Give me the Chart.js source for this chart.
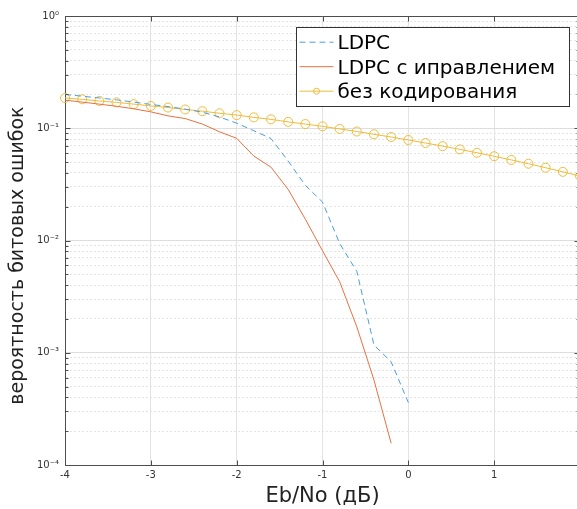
<!DOCTYPE html>
<html><head><meta charset="utf-8">
<script src="https://cdn.jsdelivr.net/npm/chart.js@4/dist/chart.umd.min.js"></script>
<style>html,body{margin:0;padding:0;background:#fff;overflow:hidden;width:577px;height:509px}canvas{display:block}</style>
</head><body>
<canvas id="c" width="580" height="509"></canvas>
<script>
// ---- data ----
const ebnoLdpc = [-4,-3.8,-3.6,-3.4,-3.2,-3,-2.8,-2.6,-2.4,-2.2,-2,-1.8,-1.6,-1.4,-1.2,-1,-0.8,-0.6,-0.4,-0.2,0];
const berLdpc = [0.200,0.193,0.186,0.179,0.171,0.163,0.156,0.148,0.139,0.126,0.111,0.095,0.081,0.051,0.031,0.022,0.0094,0.0053,0.00117,0.00083,0.00036];
const ebnoLdpcCorr = [-4,-3.8,-3.6,-3.4,-3.2,-3,-2.8,-2.6,-2.4,-2.2,-2,-1.8,-1.6,-1.4,-1.2,-1,-0.8,-0.6,-0.4,-0.2];
const berLdpcCorr = [0.178,0.171,0.164,0.157,0.149,0.140,0.129,0.122,0.109,0.093,0.0813,0.0565,0.0450,0.0285,0.0155,0.0081,0.0043,0.0017,0.00057,0.000156];
const ebnoUncoded = [-4,-3.8,-3.6,-3.4,-3.2,-3,-2.8,-2.6,-2.4,-2.2,-2,-1.8,-1.6,-1.4,-1.2,-1,-0.8,-0.6,-0.4,-0.2,0,0.2,0.4,0.6,0.8,1,1.2,1.4,1.6,1.8,2];
const berUncoded = [0.186,0.181,0.175,0.170,0.164,0.158,0.153,0.147,0.142,0.136,0.131,0.125,0.120,0.114,0.109,0.104,0.0986,0.0935,0.0884,0.0835,0.0786,0.0739,0.0693,0.0648,0.0605,0.0563,0.0522,0.0483,0.0445,0.0409,0.0375];
const seriesNames = ['LDPC','LDPC с иправлением','без кодирования'];
const xTickValues = [-4,-3,-2,-1,0,1,2];
const xTickLabels = ['-4','-3','-2','-1','0','1',''];
const yDecades = [1e-4,1e-3,1e-2,1e-1,1];
const yTickLabels = ['10⁻⁴','10⁻³','10⁻²','10⁻¹','10⁰'];
const xTitle = 'Eb/No (дБ)';
const yTitle = 'вероятность битовых ошибок';

// ---- helpers ----
const FONT = 'DejaVu Sans';
const isDecade = v => Math.abs(Math.log10(v) - Math.round(Math.log10(v))) < 1e-6;
const yTickValues = [];
yDecades.forEach((d, i) => {
  if (i < yDecades.length - 1) { for (let m = 1; m <= 9; m++) yTickValues.push(m * d); }
  else yTickValues.push(d);
});
const pts = (xs, ys) => xs.map((x, i) => ({x, y: ys[i]}));
const AXIS = '#4d4d4d';
const COLORS = ['#4a9ee0', '#e8703f', '#efbb3a'];

const frame = {
  id: 'frame',
  afterDatasetsDraw(chart) {
    const {ctx, chartArea: a, scales: {x, y}} = chart;
    ctx.save();
    ctx.strokeStyle = AXIS; ctx.lineWidth = 1;
    const T = Math.round(a.top) + 0.5, B = Math.round(a.bottom) + 0.5;
    const L = Math.round(a.left) + 0.5, R = Math.round(a.right) - 0.5;
    ctx.beginPath();
    ctx.moveTo(L, T); ctx.lineTo(R, T); ctx.lineTo(R, B);
    xTickValues.forEach(v => {
      const p = Math.round(x.getPixelForValue(v)) + 0.5;
      ctx.moveTo(p, B); ctx.lineTo(p, B - 5);
      ctx.moveTo(p, T); ctx.lineTo(p, T + 5);
    });
    yTickValues.forEach(v => {
      const p = Math.round(y.getPixelForValue(v)) + 0.5;
      const len = isDecade(v) ? 5 : 3;
      ctx.moveTo(L, p); ctx.lineTo(L + len, p);
      ctx.moveTo(R, p); ctx.lineTo(R - len, p);
    });
    ctx.stroke();
    ctx.restore();
  }
};

const boxLegend = {
  id: 'boxLegend',
  afterDraw(chart) {
    const {ctx, chartArea: a} = chart;
    const w = 273, h = 79;
    const left = Math.round(a.left) + 231 + 0.5, top = Math.round(a.top) + 11 + 0.5;
    ctx.save();
    ctx.fillStyle = '#fff';
    ctx.fillRect(left, top, w, h);
    ctx.strokeStyle = '#333'; ctx.lineWidth = 1;
    ctx.strokeRect(left, top, w, h);
    ctx.font = '20px "' + FONT + '"';
    ctx.textBaseline = 'alphabetic';
    ctx.textAlign = 'left';
    chart.data.datasets.forEach((ds, i) => {
      const yy = top + 14.7 + i * 24.5;
      ctx.save();
      ctx.strokeStyle = ds.borderColor; ctx.lineWidth = ds.borderWidth;
      ctx.setLineDash(ds.borderDash || []);
      ctx.beginPath(); ctx.moveTo(left + 3, yy); ctx.lineTo(left + 37, yy); ctx.stroke();
      ctx.setLineDash([]);
      if (ds.pointRadius > 0) {
        ctx.beginPath(); ctx.arc(left + 20, yy, 3, 0, Math.PI * 2); ctx.stroke();
      }
      ctx.restore();
      ctx.fillStyle = '#000';
      ctx.fillText(ds.label, left + 41, yy + 6.8);
    });
    ctx.restore();
  }
};

new Chart(document.getElementById('c'), {
  type: 'line',
  data: {
    datasets: [
      {label: seriesNames[0], data: pts(ebnoLdpc, berLdpc), borderColor: COLORS[0], borderWidth: 1, borderDash: [6, 4], pointRadius: 0, fill: false, clip: 12},
      {label: seriesNames[1], data: pts(ebnoLdpcCorr, berLdpcCorr), borderColor: COLORS[1], borderWidth: 1, pointRadius: 0, fill: false, clip: 12},
      {label: seriesNames[2], data: pts(ebnoUncoded, berUncoded), borderColor: COLORS[2], borderWidth: 1, pointRadius: 4.5, pointBorderWidth: 1, pointBorderColor: COLORS[2], pointBackgroundColor: 'rgba(0,0,0,0)', pointStyle: 'circle', fill: false, clip: 12}
    ]
  },
  options: {
    responsive: false,
    animation: false,
    devicePixelRatio: 1,
    layout: {autoPadding: false, padding: {left: 0, right: 0, top: 16, bottom: 0}},
    plugins: {legend: {display: false}, tooltip: {enabled: false}},
    scales: {
      x: {
        type: 'linear', min: -4, max: 2,
        afterBuildTicks: s => { s.ticks = xTickValues.map(v => ({value: v})); },
        afterFit: s => { s.height = 44; s.paddingLeft = 0; s.paddingRight = 0; },
        ticks: {autoSkip: false, maxRotation: 0, padding: 4, color: '#333', font: {family: FONT, size: 10},
          callback: (v) => { const i = xTickValues.indexOf(v); return i >= 0 ? xTickLabels[i] : ''; }},
        grid: {drawTicks: false, color: '#e3e3e3', lineWidth: 1},
        border: {display: true, color: AXIS, width: 1},
        title: {display: true, text: xTitle, color: '#222', font: {family: FONT, size: 21}, padding: {top: 0, bottom: 0}}
      },
      y: {
        type: 'logarithmic', min: 1e-4, max: 1,
        afterBuildTicks: s => { s.ticks = yTickValues.map(v => ({value: v})); },
        afterFit: s => { s.width = 65; s.paddingTop = 0; s.paddingBottom = 0; },
        ticks: {autoSkip: false, padding: 6, color: '#333', font: {family: FONT, size: 10},
          callback: (v) => { const i = yDecades.findIndex(d => Math.abs(d - v) / d < 1e-6); return i >= 0 ? yTickLabels[i] : ''; }},
        grid: {drawTicks: false, lineWidth: 1, color: c => (c.tick && !isDecade(c.tick.value)) ? '#e4e4e4' : '#dedede'},
        border: {display: true, color: AXIS, width: 1, dash: c => (c.tick && !isDecade(c.tick.value)) ? [2, 2] : []},
        title: {display: true, text: yTitle + '     ', color: '#222', font: {family: FONT, size: 19}, padding: {top: 7, bottom: 0}}
      }
    }
  },
  plugins: [frame, boxLegend]
});
</script>
</body></html>
